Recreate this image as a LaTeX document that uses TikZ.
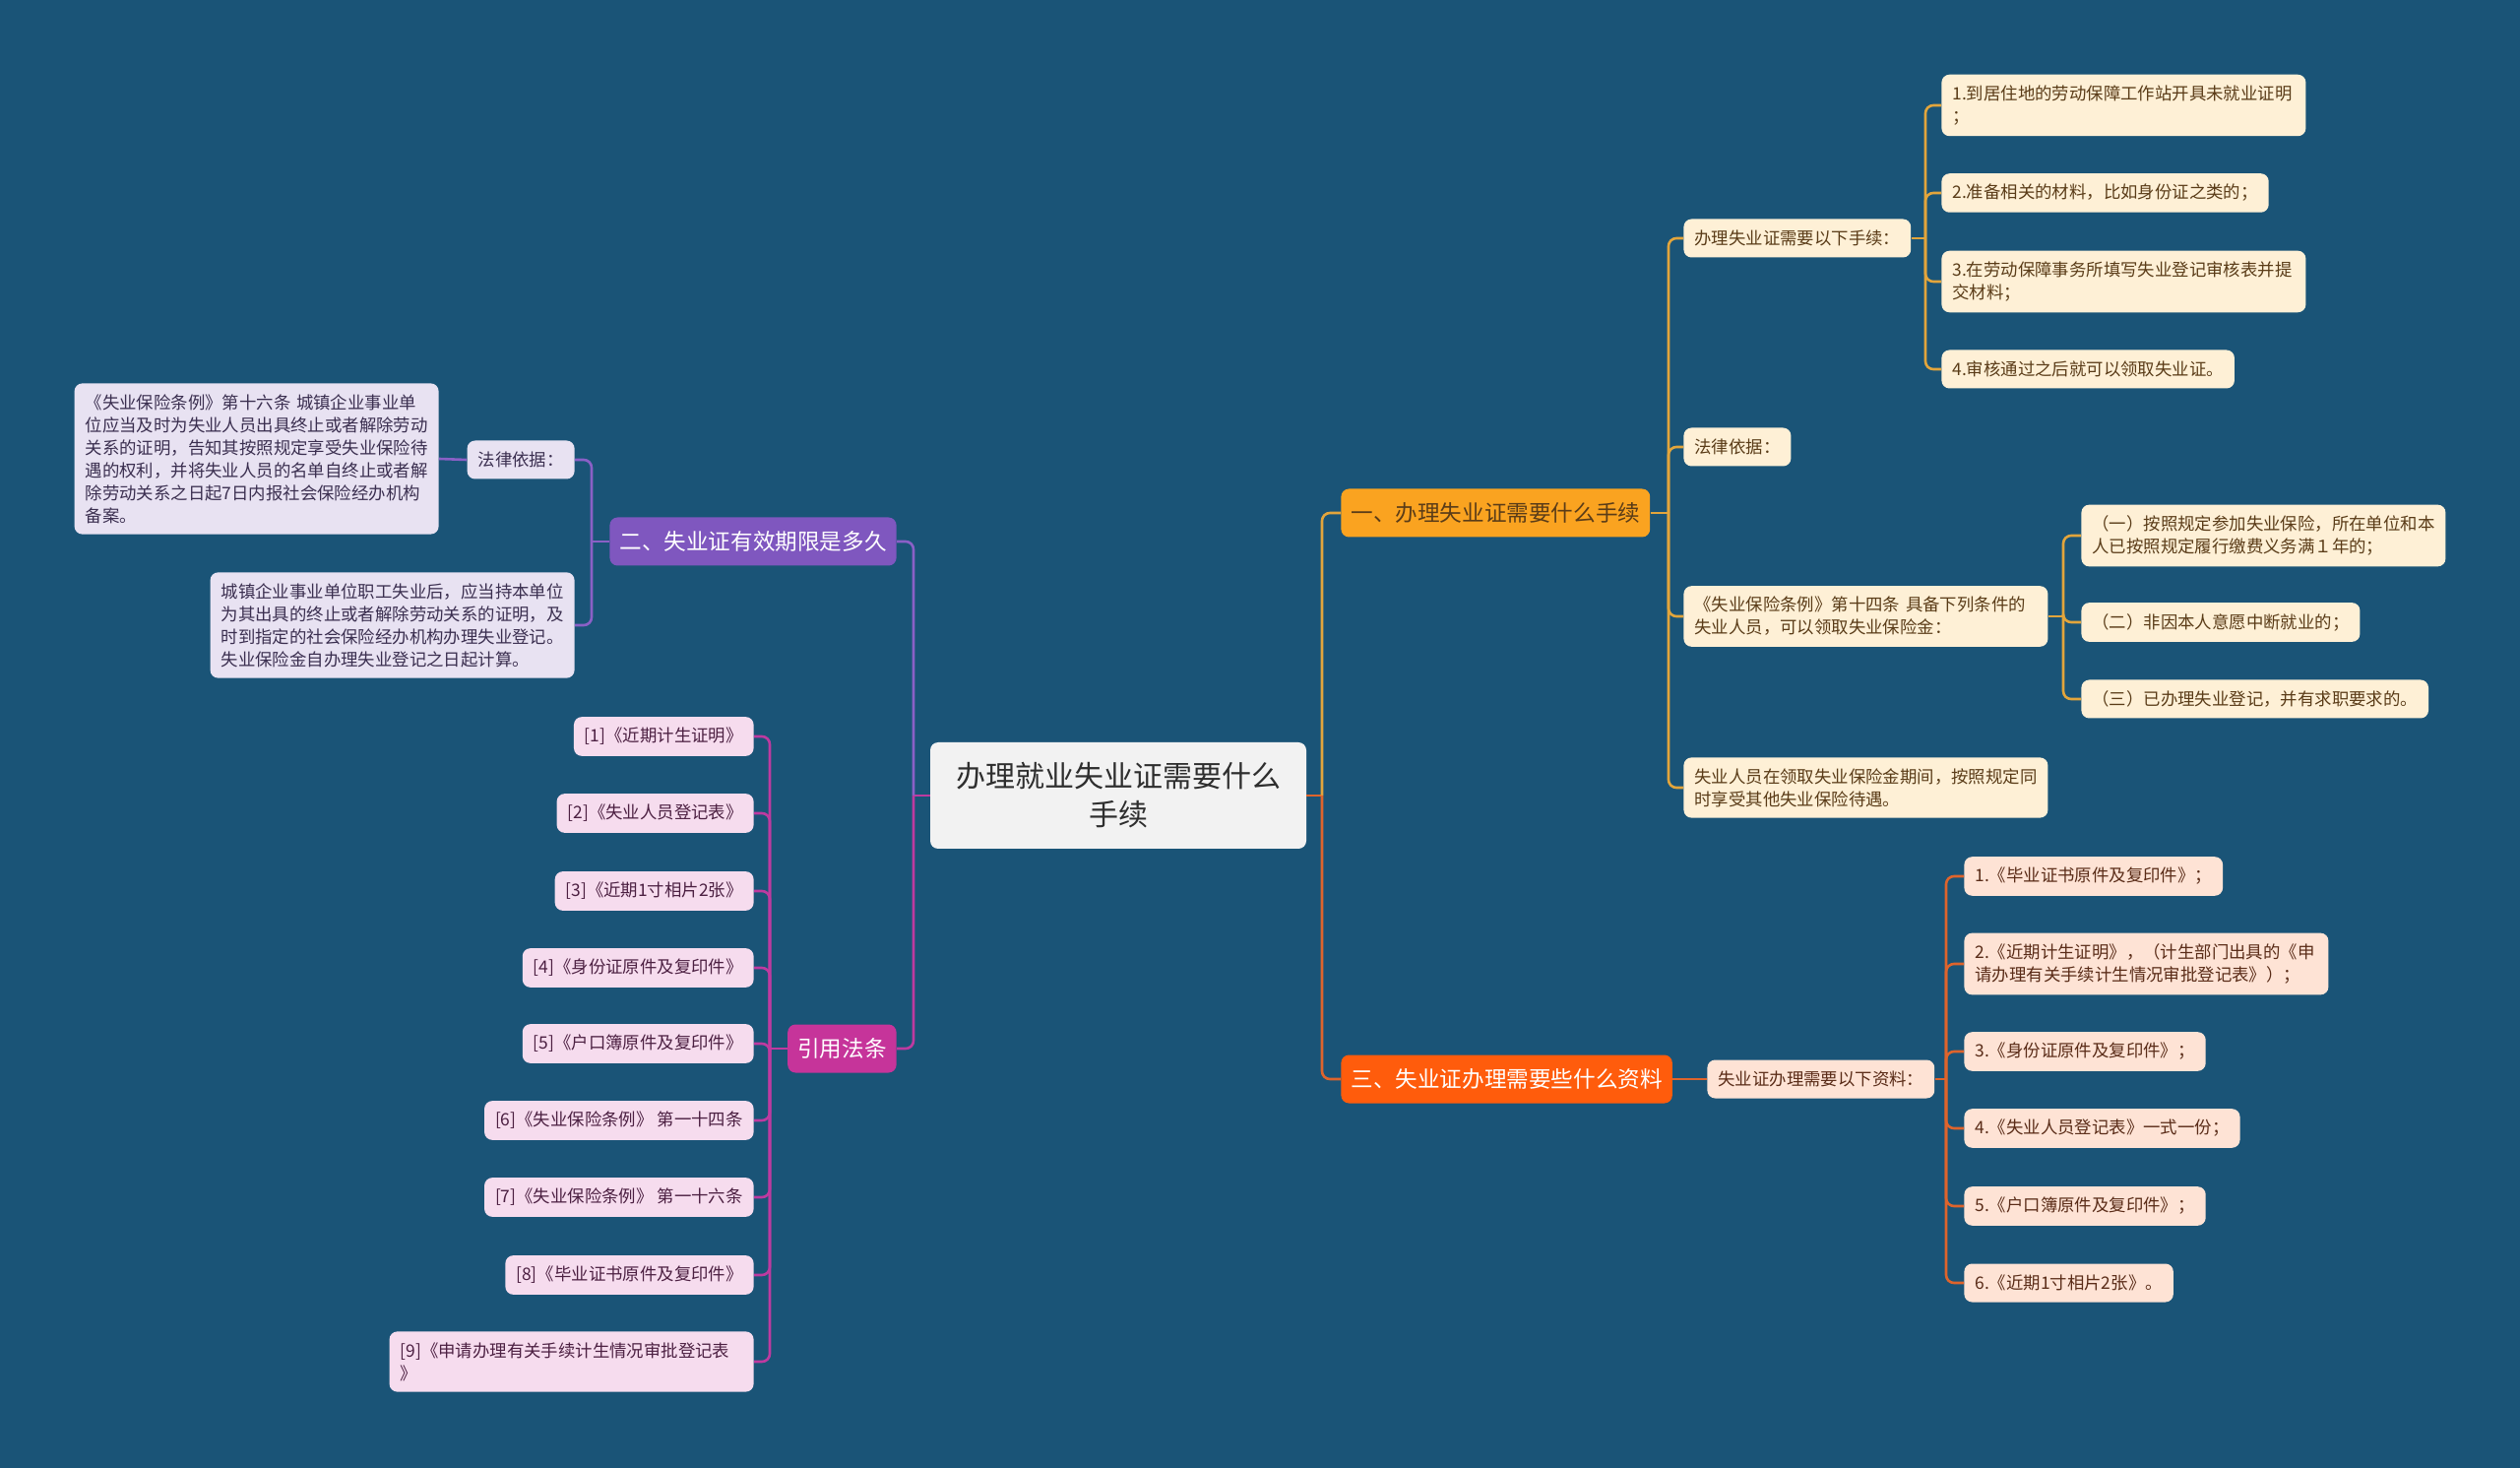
\documentclass[tikz,border=0pt]{standalone}
\usepackage{fontspec}
\setmainfont{Noto Sans CJK SC}
\usepackage{tikz}

\definecolor{bgBlue}{HTML}{1A5477}
\definecolor{rootFill}{HTML}{F2F2F2}
\definecolor{rootText}{HTML}{2E2E2E}
\definecolor{oneFill}{HTML}{FAA320}
\definecolor{oneLine}{HTML}{E2A53C}
\definecolor{oneLeaf}{HTML}{FEF0D6}
\definecolor{oneText}{HTML}{5A3C18}
\definecolor{threeFill}{HTML}{FF5C0C}
\definecolor{threeLine}{HTML}{DE642C}
\definecolor{threeLeaf}{HTML}{FEE3D5}
\definecolor{threeText}{HTML}{5A2C18}
\definecolor{twoFill}{HTML}{7F57BF}
\definecolor{twoLine}{HTML}{8A60C6}
\definecolor{twoLeaf}{HTML}{E8E2F2}
\definecolor{twoText}{HTML}{3B2F50}
\definecolor{citeFill}{HTML}{C6349A}
\definecolor{citeLine}{HTML}{BE3AA0}
\definecolor{citeLeaf}{HTML}{F6DCEE}
\definecolor{citeText}{HTML}{4C2042}

\tikzset{
    root/.style={fill=rootFill, text=rootText, rounded corners=4pt, minimum width=191pt,
        minimum height=54pt, align=center, font=\fontsize{15}{19.6}\selectfont},
    topic/.style={fill=#1Fill, rounded corners=4pt, inner xsep=5pt, minimum height=24.5pt,
        font=\fontsize{11.3}{14}\selectfont},
    leaf/.style={fill=#1Leaf, text=#1Text, rounded corners=4pt, inner xsep=5.5pt, inner ysep=5.5pt,
        minimum height=19.5pt, align=left, font=\fontsize{8.7}{11.5}\selectfont},
    wrap/.style={text width=174pt},
    link/.style={draw=#1Line, line width=1.3pt, rounded corners=4pt}
}

\begin{document}
\begin{tikzpicture}[x=0.5pt, y=-0.5pt]
        % Background
        \fill [bgBlue] (0,0) rectangle (2560,1491);
        \useasboundingbox (0,0) rectangle (2560,1491);

        % Root and topics
        \node [root] (root) at (1136,808) {办理就业失业证需要什么\\手续};
        \node [topic=one, text=oneText, anchor=west] (one) at (1362,521) {一、办理失业证需要什么手续};
        \node [topic=three, text=white, anchor=west] (three) at (1362,1096) {三、失业证办理需要些什么资料};
        \node [topic=two, text=white, anchor=east] (two) at (911,550) {二、失业证有效期限是多久};
        \node [topic=cite, text=white, anchor=east] (cite) at (911,1065) {引用法条};

        % Topic one
        \node [leaf=one, anchor=west] (steps) at (1710,242) {办理失业证需要以下手续：};
        \node [leaf=one, anchor=west] (law) at (1710,454) {法律依据：};
        \node [leaf=one, wrap, anchor=west] (art14) at (1710,626) {《失业保险条例》第十四条 具备下列条件的\\失业人员，可以领取失业保险金：};
        \node [leaf=one, wrap, anchor=west] (enjoy) at (1710,800) {失业人员在领取失业保险金期间，按照规定同\\时享受其他失业保险待遇。};
        \node [leaf=one, wrap, anchor=west] (stepA) at (1972,107) {1.到居住地的劳动保障工作站开具未就业证明\\；};
        \node [leaf=one, anchor=west] (stepB) at (1972,196) {2.准备相关的材料，比如身份证之类的；};
        \node [leaf=one, wrap, anchor=west] (stepC) at (1972,286) {3.在劳动保障事务所填写失业登记审核表并提\\交材料；};
        \node [leaf=one, anchor=west] (stepD) at (1972,375) {4.审核通过之后就可以领取失业证。};
        \node [leaf=one, wrap, anchor=west] (condA) at (2114,544) {（一）按照规定参加失业保险，所在单位和本\\人已按照规定履行缴费义务满１年的；};
        \node [leaf=one, anchor=west] (condB) at (2114,632) {（二）非因本人意愿中断就业的；};
        \node [leaf=one, anchor=west] (condC) at (2114,710) {（三）已办理失业登记，并有求职要求的。};

        % Topic three
        \node [leaf=three, anchor=west] (docs) at (1734,1096) {失业证办理需要以下资料：};
        \node [leaf=three, anchor=west] (docA) at (1995,890) {1.《毕业证书原件及复印件》；};
        \node [leaf=three, wrap, anchor=west] (docB) at (1995,979) {2.《近期计生证明》，（计生部门出具的《申\\请办理有关手续计生情况审批登记表》）；};
        \node [leaf=three, anchor=west] (docC) at (1995,1068) {3.《身份证原件及复印件》；};
        \node [leaf=three, anchor=west] (docD) at (1995,1146) {4.《失业人员登记表》一式一份；};
        \node [leaf=three, anchor=west] (docE) at (1995,1225) {5.《户口簿原件及复印件》；};
        \node [leaf=three, anchor=west] (docF) at (1995,1303) {6.《近期1寸相片2张》。};

        % Topic two
        \node [leaf=two, anchor=east] (basis) at (584,467) {法律依据：};
        \node [leaf=two, wrap, anchor=east] (art16) at (446,466) {《失业保险条例》第十六条 城镇企业事业单\\位应当及时为失业人员出具终止或者解除劳动\\关系的证明，告知其按照规定享受失业保险待\\遇的权利，并将失业人员的名单自终止或者解\\除劳动关系之日起7日内报社会保险经办机构\\备案。};
        \node [leaf=two, wrap, anchor=east] (period) at (584,635) {城镇企业事业单位职工失业后，应当持本单位\\为其出具的终止或者解除劳动关系的证明，及\\时到指定的社会保险经办机构办理失业登记。\\失业保险金自办理失业登记之日起计算。};

        % Cited items
        \node [leaf=cite, anchor=east] (refA) at (766,748) {[1]《近期计生证明》};
        \node [leaf=cite, anchor=east] (refB) at (766,826) {[2]《失业人员登记表》};
        \node [leaf=cite, anchor=east] (refC) at (766,905) {[3]《近期1寸相片2张》};
        \node [leaf=cite, anchor=east] (refD) at (766,983) {[4]《身份证原件及复印件》};
        \node [leaf=cite, anchor=east] (refE) at (766,1060) {[5]《户口簿原件及复印件》};
        \node [leaf=cite, anchor=east] (refF) at (766,1138) {[6]《失业保险条例》 第一十四条};
        \node [leaf=cite, anchor=east] (refG) at (766,1216) {[7]《失业保险条例》 第一十六条};
        \node [leaf=cite, anchor=east] (refH) at (766,1295) {[8]《毕业证书原件及复印件》};
        \node [leaf=cite, wrap, anchor=east] (refI) at (766,1383) {[9]《申请办理有关手续计生情况审批登记表\\》};

        % Spines
        \coordinate (rootR) at (1343,808);
        \coordinate (rootL) at (928,808);
        \coordinate (oneS) at (1695,521);
        \coordinate (stepS) at (1956,242);
        \coordinate (condS) at (2096,626);
        \coordinate (docS) at (1977,1096);
        \coordinate (twoS) at (601,550);
        \coordinate (citeS) at (782,1065);

        % Connectors
        \draw [link=three] (root.east) -- (rootR);
        \draw [link=one] (rootR) |- (one.west);
        \draw [link=three] (rootR) |- (three.west);
        \draw [link=cite] (root.west) -- (rootL);
        \draw [link=two] (rootL) |- (two.east);
        \draw [link=cite] (rootL) |- (cite.east);

        \draw [link=one] (one.east) -- (oneS);
        \foreach \n in {steps,law,art14,enjoy} \draw [link=one] (oneS) |- (\n.west);
        \draw [link=one] (steps.east) -- (stepS);
        \foreach \n in {stepA,stepB,stepC,stepD} \draw [link=one] (stepS) |- (\n.west);
        \draw [link=one] (art14.east) -- (condS);
        \foreach \n in {condA,condB,condC} \draw [link=one] (condS) |- (\n.west);

        \draw [link=three] (three.east) -- (docs.west);
        \draw [link=three] (docs.east) -- (docS);
        \foreach \n in {docA,docB,docC,docD,docE,docF} \draw [link=three] (docS) |- (\n.west);

        \draw [link=two] (two.west) -- (twoS);
        \foreach \n in {basis,period} \draw [link=two] (twoS) |- (\n.east);
        \draw [link=two] (basis.west) -- (art16.east);

        \draw [link=cite] (cite.west) -- (citeS);
        \foreach \n in {refA,refB,refC,refD,refE,refF,refG,refH,refI} \draw [link=cite] (citeS) |- (\n.east);
\end{tikzpicture}
\end{document}
